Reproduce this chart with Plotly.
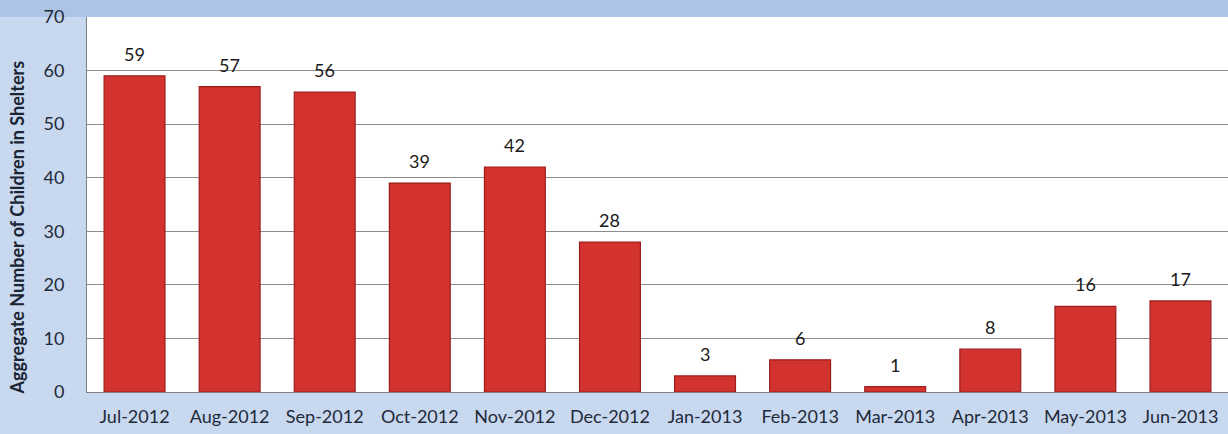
import plotly.graph_objects as go

months = ["Jul-2012", "Aug-2012", "Sep-2012", "Oct-2012", "Nov-2012", "Dec-2012",
          "Jan-2013", "Feb-2013", "Mar-2013", "Apr-2013", "May-2013", "Jun-2013"]
children = [59, 57, 56, 39, 42, 28, 3, 6, 1, 8, 16, 17]
y_ticks = [0, 10, 20, 30, 40, 50, 60, 70]
y_title = "Aggregate Number of Children in Shelters"

FONT = "Lato, 'Open Sans', sans-serif"

fig = go.Figure()
fig.add_trace(go.Bar(
    x=months, y=children,
    marker=dict(color="#d3332f", line=dict(color="#9b1d1b", width=1.2)),
))

for m, v in zip(months, children):
    fig.add_annotation(x=m, y=v, text=str(v), showarrow=False, yanchor="bottom",
                       yshift=9, font=dict(size=18, color="#1a1a1a", family=FONT))

fig.add_annotation(xref="paper", yref="paper", x=-0.061, y=0.44, text=f"<b>{y_title}</b>",
                   textangle=-90, showarrow=False, xanchor="center", yanchor="middle",
                   font=dict(size=18, color="#1a2433", family=FONT))

fig.update_layout(
    width=1228, height=434,
    margin=dict(l=87, r=0, t=17, b=42),
    paper_bgcolor="#c8d8ef",
    plot_bgcolor="#ffffff",
    bargap=0.36,
    showlegend=False,
    font=dict(family=FONT, color="#1f2a3a"),
    shapes=[dict(type="rect", xref="paper", yref="paper", x0=-0.1, x1=1.05, y0=1.0, y1=1.06,
                 fillcolor="#adc4e7", line=dict(width=0), layer="below")],
)
fig.update_xaxes(
    showgrid=False, showline=True, linecolor="#808080", linewidth=1,
    tickfont=dict(size=18, color="#1f2a3a", family=FONT),
    ticks="", ticklabelstandoff=8, fixedrange=True, automargin=False,
)
fig.update_yaxes(
    range=[0, 70], tickvals=y_ticks,
    showgrid=True, gridcolor="#8c8c8c", gridwidth=1,
    showline=True, linecolor="#808080", linewidth=1, mirror=True,
    tickfont=dict(size=18, color="#1f2a3a", family=FONT),
    ticklabelstandoff=18, zeroline=False, automargin=False, fixedrange=True,
)

fig.write_html("out.html", config={"displayModeBar": False, "staticPlot": True},
               post_script="document.body.style.margin='0';document.body.style.overflow='hidden';")
